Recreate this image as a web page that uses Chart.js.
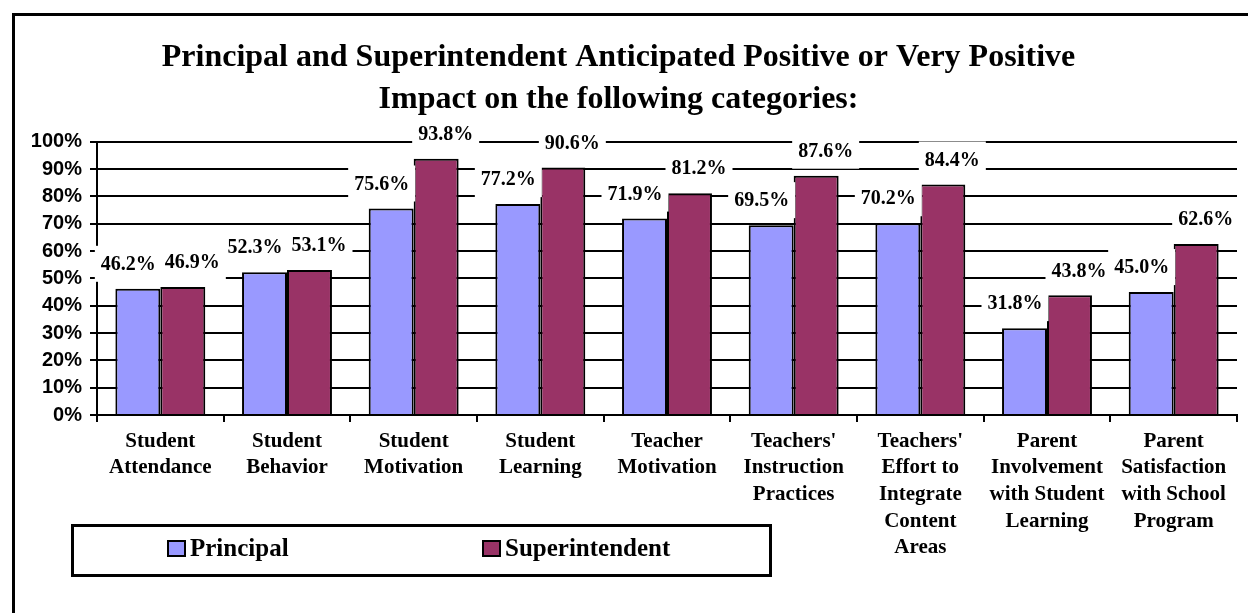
<!DOCTYPE html>
<html>
<head>
<meta charset="utf-8">
<script src="https://cdn.jsdelivr.net/npm/chart.js@4/dist/chart.umd.min.js"></script>
<style>
  html, body { margin: 0; padding: 0; background: #fff; }
  #wrap { position: relative; width: 1248px; height: 613px; }
</style>
</head>
<body>
<div id="wrap"><canvas id="impactChart"></canvas></div>
<script>
const categories = [
  ['Student', 'Attendance'],
  ['Student', 'Behavior'],
  ['Student', 'Motivation'],
  ['Student', 'Learning'],
  ['Teacher', 'Motivation'],
  ["Teachers'", 'Instruction', 'Practices'],
  ["Teachers'", 'Effort to', 'Integrate', 'Content', 'Areas'],
  ['Parent', 'Involvement', 'with Student', 'Learning'],
  ['Parent', 'Satisfaction', 'with School', 'Program']
];
const principal = [46.2, 52.3, 75.6, 77.2, 71.9, 69.5, 70.2, 31.8, 45.0];
const superintendent = [46.9, 53.1, 93.8, 90.6, 81.2, 87.6, 84.4, 43.8, 62.6];
const titleLines = [
  'Principal and Superintendent Anticipated Positive or Very Positive',
  'Impact on the following categories:'
];

const SERIF = '"Liberation Serif", "Times New Roman", serif';
const SANS = '"Liberation Sans", Arial, sans-serif';

// outer frame (only top and left edges are visible in the picture)
const framePlugin = {
  id: 'frame',
  beforeDraw(chart) {
    const ctx = chart.ctx;
    ctx.save();
    ctx.strokeStyle = '#000';
    ctx.lineWidth = 3;
    ctx.beginPath();
    ctx.moveTo(13.5, chart.height + 2);
    ctx.lineTo(13.5, 14.5);
    ctx.lineTo(chart.width + 2, 14.5);
    ctx.stroke();
    ctx.restore();
  }
};

// value labels on white boxes above each bar
const valueLabels = {
  id: 'valueLabels',
  afterDatasetsDraw(chart) {
    const ctx = chart.ctx;
    ctx.save();
    ctx.font = 'bold 20px ' + SERIF;
    ctx.textAlign = 'center';
    ctx.textBaseline = 'middle';
    const m0 = chart.getDatasetMeta(0);
    const m1 = chart.getDatasetMeta(1);
    const gap = 9;
    chart.data.labels.forEach((_, i) => {
      const items = [m0, m1].map((meta, d) => {
        const v = chart.data.datasets[d].data[i];
        const txt = v.toFixed(1) + '%';
        return { txt, x: meta.data[i].x, y: meta.data[i].y - 25, w: ctx.measureText(txt).width };
      });
      const a = items[0], b = items[1];
      const overlap = (a.x + a.w / 2 + gap) - (b.x - b.w / 2);
      if (overlap > 0) { a.x -= overlap / 2; b.x += overlap / 2; }
      items.forEach(it => {
        ctx.fillStyle = '#fff';
        ctx.fillRect(it.x - it.w / 2 - 6, it.y - 18, it.w + 12, 36);
      });
      items.forEach(it => {
        ctx.fillStyle = '#000';
        ctx.fillText(it.txt, it.x, it.y + 1);
      });
    });
    ctx.restore();
  }
};

// boxed legend below the plot
const boxLegend = {
  id: 'boxLegend',
  afterDraw(chart) {
    const ctx = chart.ctx;
    ctx.save();
    ctx.strokeStyle = '#000';
    ctx.lineWidth = 3;
    ctx.strokeRect(72.5, 525.5, 698, 50);
    const xs = [168, 483];
    ctx.font = 'bold 25px ' + SERIF;
    ctx.textBaseline = 'middle';
    ctx.textAlign = 'left';
    chart.data.datasets.forEach((ds, d) => {
      ctx.fillStyle = ds.backgroundColor;
      ctx.fillRect(xs[d], 541, 17, 15);
      ctx.lineWidth = 2;
      ctx.strokeRect(xs[d], 541, 17, 15);
      ctx.fillStyle = '#000';
      ctx.fillText(ds.label, xs[d] + 22, 550);
    });
    ctx.restore();
  }
};

new Chart(document.getElementById('impactChart'), {
  type: 'bar',
  data: {
    labels: categories,
    datasets: [
      {
        label: 'Principal',
        data: principal,
        backgroundColor: '#9999ff',
        borderColor: '#000',
        borderWidth: 2
      },
      {
        label: 'Superintendent',
        data: superintendent,
        backgroundColor: '#993366',
        borderColor: '#000',
        borderWidth: 2
      }
    ]
  },
  options: {
    responsive: true,
    maintainAspectRatio: false,
    animation: false,
    categoryPercentage: 0.71,
    barPercentage: 1.0,
    layout: { padding: { left: 0, right: 11, top: 0, bottom: 0 } },
    plugins: {
      legend: { display: false },
      tooltip: { enabled: false },
      title: {
        display: true,
        text: titleLines,
        color: '#000',
        font: { family: SERIF, size: 32, weight: 'bold', lineHeight: 1.31 },
        padding: { top: 37, bottom: 21 }
      }
    },
    scales: {
      x: {
        afterFit(scale) { scale.height = 198; },
        grid: {
          display: true,
          drawOnChartArea: false,
          offset: true,
          color: '#000',
          lineWidth: 2,
          tickLength: 7
        },
        border: { color: '#000', width: 2 },
        ticks: {
          color: '#000',
          padding: 6,
          maxRotation: 0,
          autoSkip: false,
          font: { family: SERIF, size: 21, weight: 'bold', lineHeight: 1.27 }
        }
      },
      y: {
        min: 0,
        max: 100,
        afterFit(scale) { scale.width = 97; },
        grid: { color: '#000', lineWidth: 2, tickLength: 7 },
        border: { color: '#000', width: 2 },
        ticks: {
          stepSize: 10,
          autoSkip: false,
          color: '#000',
          padding: 8,
          font: { family: SANS, size: 20, weight: 'bold', lineHeight: 1.0 },
          callback: v => v + '%'
        }
      }
    }
  },
  plugins: [framePlugin, valueLabels, boxLegend]
});
</script>
</body>
</html>
